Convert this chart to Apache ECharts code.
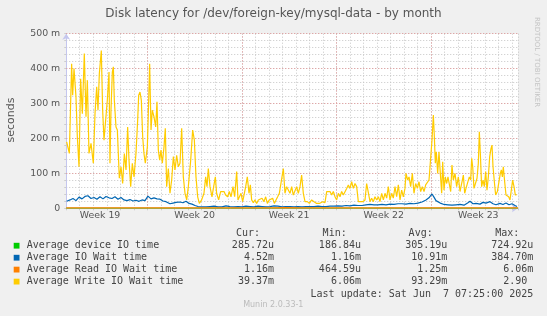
<!DOCTYPE html>
<html><head><meta charset="utf-8">
<script src="https://cdn.jsdelivr.net/npm/echarts@6/dist/echarts.min.js"></script>
<style>html,body{margin:0;padding:0;background:#f0f0f0}#c{width:547px;height:316px}</style>
</head><body><div id="c"></div>
<script>
const chartTitle = 'Disk latency for /dev/foreign-key/mysql-data - by month';
const yAxisName = 'seconds';
const weekLabels = ['Week 19','Week 20','Week 21','Week 22','Week 23'];
// hours since start of plot; week 20 starts at hour 144
const weekStartHours = [144, 312, 480, 648];
const weekLabelHours = [60, 228, 396, 564, 732];
const spanHours = 802.6;
const yMax = 500;
const yMajor = [100, 200, 300, 400, 500];

// Average Write IO Wait time [hour, ms]
const writeData = [[0.75,190],[5.5,157],[9.6,414],[11.4,324],[13.8,400],[17.3,319],[19.7,205],[22.7,119],[25.6,371],[28.6,271],[32.1,443],[35.1,262],[37.5,367],[40.4,157],[44.0,186],[48.1,129],[51.1,271],[54.1,348],[56.4,281],[58.8,386],[62.3,452],[64.7,281],[67.1,195],[70.0,252],[73.0,310],[76.0,390],[77.7,129],[79.5,281],[81.9,390],[83.7,405],[85.4,310],[88.4,233],[90.8,224],[94.3,86],[97.3,119],[100.2,71],[103.2,157],[106.2,110],[109.1,233],[111.5,138],[114.5,62],[117.4,129],[120.4,90],[123.9,157],[126.9,252],[128.7,324],[131.0,333],[133.4,310],[135.8,205],[138.1,157],[140.5,129],[144.1,176],[145.8,271],[148.2,414],[150.6,224],[152.9,281],[155.9,262],[158.9,233],[161.2,305],[163.6,167],[166.0,138],[168.3,167],[170.7,129],[173.7,176],[176.0,229],[178.4,62],[181.4,114],[184.3,43],[187.3,81],[190.3,148],[193.2,110],[196.2,152],[199.1,119],[202.1,129],[205.1,229],[208.0,90],[211.0,43],[214.0,24],[216.9,62],[221.1,138],[224.6,224],[227.6,195],[230.5,90],[233.5,33],[236.5,14],[240.6,24],[244.7,43],[247.7,90],[250.1,62],[252.4,114],[255.4,62],[258.9,33],[261.9,62],[264.9,90],[267.2,43],[270.8,24],[274.3,48],[277.3,43],[280.3,48],[283.2,38],[286.8,33],[289.7,48],[292.7,33],[296.3,62],[299.2,33],[302.8,105],[305.1,24],[307.5,19],[310.5,43],[313.4,19],[315.8,38],[318.8,62],[321.7,90],[324.7,43],[327.1,67],[329.4,24],[332.4,16],[335.3,24],[338.3,14],[341.3,24],[344.2,19],[347.8,29],[351.3,19],[354.3,33],[357.3,14],[360.8,24],[363.8,19],[366.7,29],[369.7,14],[372.7,24],[375.6,33],[378.6,43],[381.5,48],[385.7,114],[388.6,43],[391.6,62],[394.6,67],[397.5,43],[400.5,62],[403.4,38],[406.4,43],[409.4,62],[412.3,43],[415.3,62],[418.2,95],[421.2,43],[424.2,19],[428.3,19],[431.9,14],[436.0,24],[440.2,19],[444.9,14],[449.6,14],[455.6,19],[459.7,16],[462.7,48],[465.6,43],[468.6,48],[471.6,38],[474.5,48],[477.5,33],[480.4,24],[483.4,43],[486.4,33],[489.3,48],[492.3,38],[495.2,43],[498.2,57],[501.2,67],[504.1,57],[507.1,76],[510.1,57],[513.0,71],[516.0,62],[518.9,19],[521.9,14],[526.6,19],[530.8,24],[533.7,71],[536.7,76],[539.7,19],[542.6,29],[545.6,19],[548.5,33],[551.5,24],[554.5,33],[557.4,19],[560.4,43],[563.4,24],[566.3,43],[569.3,29],[572.2,62],[575.2,24],[578.2,43],[581.1,29],[584.1,62],[587.0,33],[590.0,67],[593.0,24],[595.9,52],[598.9,33],[601.8,57],[603.6,100],[606.6,81],[609.0,90],[611.9,62],[614.9,100],[617.8,43],[620.8,71],[623.8,57],[626.7,76],[629.7,48],[632.6,62],[635.6,48],[638.6,67],[641.5,67],[644.5,81],[646.3,119],[648.0,157],[649.8,195],[652.2,267],[654.0,205],[655.7,129],[657.5,162],[659.9,100],[662.2,162],[664.6,100],[667.0,43],[668.8,133],[671.1,52],[673.5,90],[675.9,71],[678.2,90],[680.6,86],[683.0,48],[685.3,124],[687.7,81],[690.7,100],[693.6,62],[696.6,90],[699.6,48],[702.5,52],[705.5,95],[707.9,43],[710.2,57],[713.2,62],[716.1,90],[718.5,81],[720.3,143],[722.1,119],[724.4,57],[727.4,52],[729.8,86],[732.1,129],[733.9,219],[735.7,157],[738.0,62],[740.4,81],[742.8,62],[745.2,105],[747.5,52],[749.9,90],[752.3,148],[754.6,171],[756.4,181],[758.2,119],[760.6,76],[762.9,38],[765.9,48],[768.8,52],[771.2,100],[773.0,110],[774.8,90],[776.5,119],[778.9,76],[781.3,38],[783.6,43],[786.0,33],[788.4,24],[790.8,19],[793.1,81],[795.5,62],[797.9,38],[800.2,39]];

// Average IO Wait time [hour, ms]
const waitData = [[0.8,20],[6.7,24],[12.0,28],[17.3,22],[22.7,32],[28.0,27],[33.3,34],[38.6,36],[44.0,28],[49.3,31],[54.6,26],[60.0,33],[65.3,27],[70.6,34],[76.0,30],[81.3,28],[86.6,33],[91.9,26],[97.3,31],[102.6,24],[107.9,22],[113.3,25],[118.6,21],[123.9,23],[129.3,20],[134.6,24],[139.9,22],[145.2,35],[150.6,27],[155.9,30],[161.2,27],[166.6,26],[171.9,21],[177.2,19],[184.3,13],[189.7,15],[195.0,17],[202.1,18],[207.4,16],[212.8,20],[218.1,14],[223.4,12],[228.8,8],[234.1,5],[241.2,4],[248.3,4],[255.4,5],[262.5,6],[269.6,4],[276.7,4],[283.8,7],[290.9,5],[298.0,4],[305.2,5],[312.3,4],[319.4,6],[326.5,5],[333.6,4],[340.7,6],[347.8,5],[354.9,4],[362.0,5],[369.1,7],[376.2,6],[383.3,4],[390.4,5],[397.5,5],[404.6,4],[411.7,5],[418.8,4],[425.9,5],[433.1,5],[440.2,5],[447.3,6],[454.4,5],[461.5,5],[468.6,6],[475.7,6],[482.8,7],[489.9,6],[497.0,8],[504.1,7],[511.2,9],[518.3,8],[525.4,8],[532.5,10],[539.6,11],[546.7,10],[553.8,10],[561.0,11],[568.1,10],[575.2,12],[582.3,11],[589.4,13],[596.5,13],[603.6,12],[610.7,14],[617.8,13],[624.9,15],[632.0,18],[639.1,24],[644.4,30],[649.8,41],[653.3,32],[656.9,22],[660.4,17],[665.8,14],[671.1,11],[678.2,10],[685.3,9],[692.4,10],[699.5,11],[706.6,9],[713.7,16],[717.3,20],[722.6,13],[728.0,14],[735.1,12],[740.4,17],[745.7,15],[752.8,19],[758.2,13],[763.5,10],[770.6,14],[775.9,11],[781.3,15],[786.6,10],[791.9,13],[797.3,8],[800.8,5]];

// Average Read IO Wait time (ms), roughly one sample per day
const readValues = [1.3,1.2,1.4,1.1,1.3,1.2,1.5,1.2,1.1,1.3,1.6,1.2,1.0,1.4,1.3,1.2,2.1,1.3,1.2,1.1,1.4,1.3,1.2,1.5,1.1,1.2,1.3,1.6,1.2,1.1,1.3,1.2,1.4,1.16];
// Average device IO time (ms), roughly one sample per day
const deviceValues = [0.30,0.29,0.32,0.31,0.28,0.30,0.33,0.29,0.31,0.30,0.35,0.30,0.28,0.31,0.30,0.29,0.40,0.32,0.30,0.29,0.31,0.30,0.28,0.33,0.29,0.30,0.31,0.34,0.30,0.29,0.30,0.31,0.32,0.29];

const legendNames = ['Average device IO time','Average IO Wait time','Average Read IO Wait time','Average Write IO Wait time'];
const legendColors = ['#00CC00','#0066B3','#FF8000','#FFCC00'];
const colHeaders = ['Cur:','Min:','Avg:','Max:'];
const curVals = ['285.72u','4.52m','1.16m','39.37m'];
const minVals = ['186.84u','1.16m','464.59u','6.06m'];
const avgVals = ['305.19u','10.91m','1.25m','93.29m'];
const maxVals = ['724.92u','384.70m','6.06m','2.90 '];
const lastUpdate = 'Last update: Sat Jun  7 07:25:00 2025';
const footer = 'Munin 2.0.33-1';
const watermark = 'RRDTOOL / TOBI OETIKER';

function daily(values) {
  const step = spanHours / (values.length - 1);
  return values.map((v, i) => [i * step, v]);
}

const chart = echarts.init(document.getElementById('c'), null, {renderer: 'canvas'});
const axisCol = '#c4c6ee';
const gridGray = '#c6c6c6';
const gridRed = '#e39a9a';
const labelFont = {fontFamily: 'DejaVu Sans', fontSize: 9.4, color: '#555'};

const redLines = weekStartHours.map(h => ({xAxis: h})).concat(yMajor.map(v => ({yAxis: v})));

const mono = {fontFamily: 'DejaVu Sans Mono', fontSize: 10, fill: '#444'};
const rowY = [245.7, 257.7, 269.6, 281.6];
const colX = [274, 361, 447.3, 533.3];
const headX = [260, 346.7, 432.7, 519.3];
const graphics = [];
graphics.push({type: 'text', x: 273.5, y: 14, style: {text: chartTitle, fontFamily: 'DejaVu Sans', fontSize: 12, fill: '#555', textAlign: 'center', textVerticalAlign: 'middle'}});
graphics.push({type: 'text', x: 11, y: 120, rotation: Math.PI / 2, style: {text: yAxisName, fontFamily: 'DejaVu Sans', fontSize: 11, fill: '#555', textAlign: 'center', textVerticalAlign: 'middle'}});
graphics.push({type: 'text', x: 537, y: 62, rotation: -Math.PI / 2, style: {text: watermark, fontFamily: 'DejaVu Sans', fontSize: 7, fill: '#c4c4c4', textAlign: 'center', textVerticalAlign: 'middle'}});
colHeaders.forEach((t, i) => graphics.push({type: 'text', x: headX[i], y: 233.3, style: Object.assign({text: t, textAlign: 'right', textVerticalAlign: 'middle'}, mono)}));
legendNames.forEach((n, i) => {
  graphics.push({type: 'rect', shape: {x: 13.7, y: rowY[i] - 2.9, width: 5.8, height: 5.8}, style: {fill: legendColors[i]}});
  graphics.push({type: 'text', x: 26.7, y: rowY[i], style: Object.assign({text: n, textAlign: 'left', textVerticalAlign: 'middle'}, mono)});
  [curVals, minVals, avgVals, maxVals].forEach((arr, c) => {
    graphics.push({type: 'text', x: colX[c], y: rowY[i], style: Object.assign({text: arr[i], textAlign: 'right', textVerticalAlign: 'middle'}, mono)});
  });
});
graphics.push({type: 'text', x: 533.3, y: 294, style: Object.assign({text: lastUpdate, textAlign: 'right', textVerticalAlign: 'middle'}, mono)});
graphics.push({type: 'text', x: 273.3, y: 305, style: {text: footer, fontFamily: 'DejaVu Sans', fontSize: 8, fill: '#bbb', textAlign: 'center', textVerticalAlign: 'middle'}});

function lineSeries(name, data, color, width, extra) {
  return Object.assign({
    name, type: 'line', data, showSymbol: false, symbol: 'none',
    lineStyle: {color, width}, itemStyle: {color}, silent: true, animation: false
  }, extra || {});
}

chart.setOption({
  animation: false,
  backgroundColor: '#f0f0f0',
  grid: {left: 66.24, right: 29, top: 33.7, bottom: 107.7, show: true, backgroundColor: '#ffffff', borderWidth: 0},
  xAxis: [{
    type: 'value', min: 0, max: spanHours, interval: 24,
    axisLine: {show: true, lineStyle: {color: axisCol, width: 1}, symbol: ['none', 'arrow'], symbolSize: [6, 6]},
    axisTick: {show: true, length: 2, lineStyle: {color: '#cccccc'}},
    axisLabel: {show: false},
    splitLine: {show: true, lineStyle: {color: gridGray, type: [1, 2], width: 1}}
  }, {
    type: 'value', min: 0, max: spanHours, interval: 12, position: 'bottom',
    axisLine: {show: false}, axisTick: {show: false}, splitLine: {show: false},
    axisLabel: Object.assign({margin: 3, showMinLabel: false, showMaxLabel: false,
      formatter: v => { const k = weekLabelHours.indexOf(Math.round(v)); return k >= 0 ? weekLabels[k] : ''; }}, labelFont)
  }],
  yAxis: {
    type: 'value', min: 0, max: yMax, interval: 20,
    axisLine: {show: true, lineStyle: {color: axisCol, width: 1}, symbol: ['none', 'arrow'], symbolSize: [6, 6]},
    axisTick: {show: true, length: 2, lineStyle: {color: '#cccccc'}},
    axisLabel: Object.assign({margin: 6, formatter: v => v % 100 === 0 ? (v === 0 ? '0' : v + ' m') : ''}, labelFont),
    splitLine: {show: true, lineStyle: {color: gridGray, type: [1, 2], width: 1}}
  },
  graphic: graphics,
  series: [
    lineSeries(legendNames[0], daily(deviceValues), legendColors[0], 1, {
      markLine: {silent: true, symbol: 'none', z: 1, label: {show: false}, animation: false,
        lineStyle: {color: gridRed, type: [1, 2], width: 1}, data: redLines}
    }),
    lineSeries(legendNames[1], waitData, legendColors[1], 1.2),
    lineSeries(legendNames[2], daily(readValues), legendColors[2], 1.2),
    lineSeries(legendNames[3], writeData, legendColors[3], 1.2)
  ]
});
</script></body></html>
